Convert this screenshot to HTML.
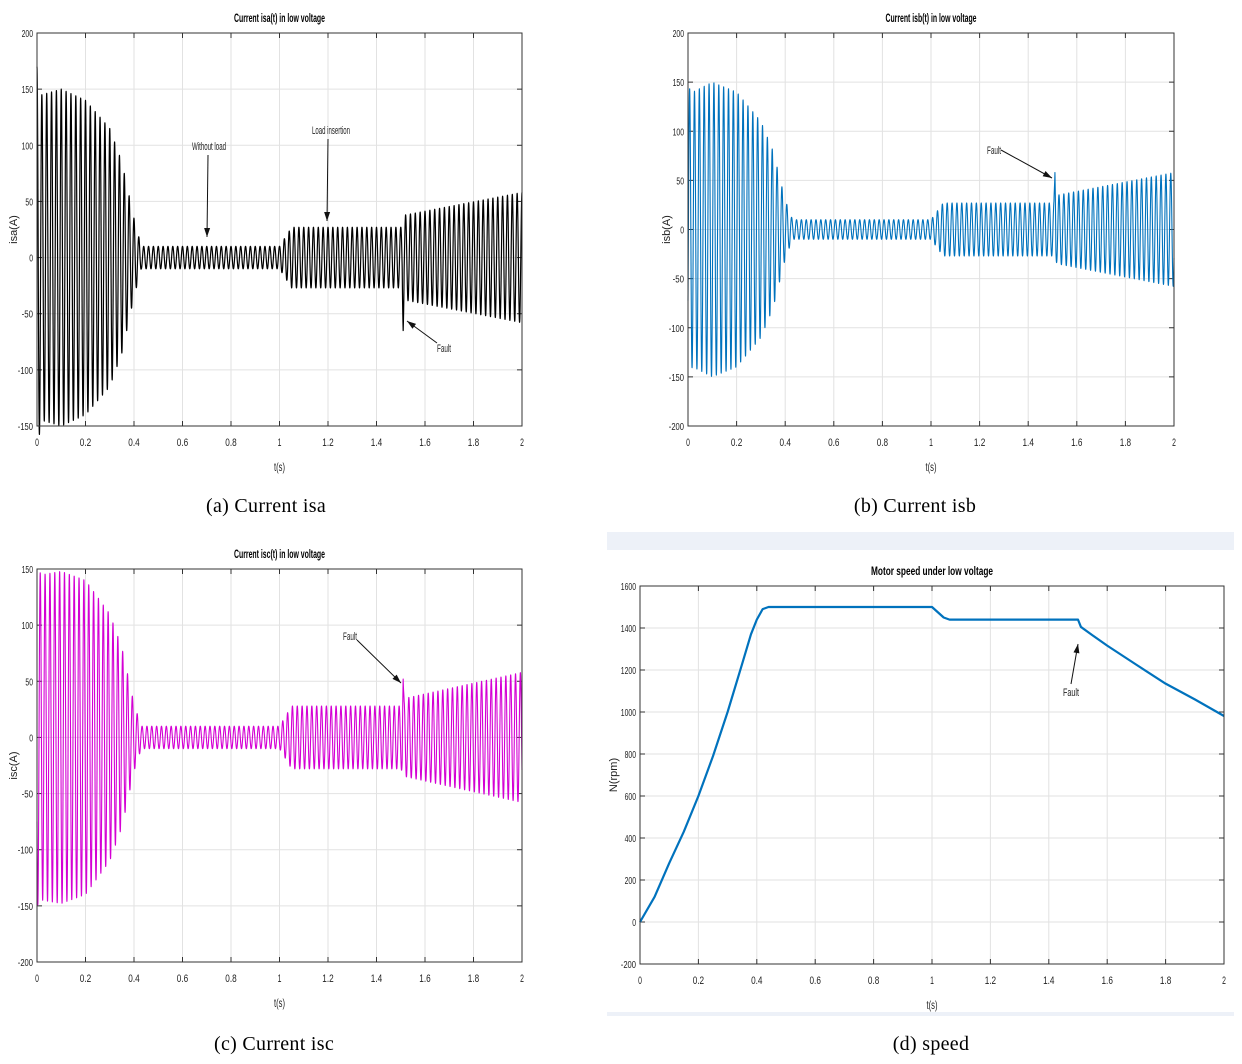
<!DOCTYPE html>
<html><head><meta charset="utf-8">
<style>
body{margin:0;background:#fff;width:1242px;height:1064px;overflow:hidden;position:relative;font-family:"Liberation Serif",serif}
.cap{position:absolute;font-size:20px;letter-spacing:0.3px;color:#000;transform:translateX(-50%);white-space:nowrap}
svg{position:absolute;left:0;top:0}
svg text{font-family:"Liberation Sans",sans-serif}
</style></head>
<body>
<div style="position:absolute;left:607px;top:532px;width:627px;height:18px;background:#edf1f8"></div>
<div style="position:absolute;left:607px;top:1012px;width:627px;height:4px;background:#edf1f8"></div>
<svg id="s" width="1242" height="1064" xmlns="http://www.w3.org/2000/svg"></svg>
<div class="cap" style="left:266px;top:495px">(a) Current isa</div>
<div class="cap" style="left:915px;top:495px">(b) Current isb</div>
<div class="cap" style="left:274px;top:1033px">(c) Current isc</div>
<div class="cap" style="left:931px;top:1033px">(d) speed</div>
<script>
const xTicks=[0,0.2,0.4,0.6,0.8,1,1.2,1.4,1.6,1.8,2];
const freqHz=50;
const envT=[0,0.02,0.1,0.2,0.3,0.35,0.4,0.43,1.0,1.05,1.5,1.52,2.0];
const envA=[170,145,150,140,115,85,35,10,10,27,27,38,58];
const envB=[145,140,150,140,110,80,30,10,10,27,27,35,58];
const envC=[150,145,148,140,110,80,30,10,10,28,28,35,58];
const faultT=1.51;
const faultA=-65, faultB=58, faultC=52;
const speedT=[0,0.05,0.1,0.15,0.2,0.25,0.3,0.35,0.38,0.4,0.42,0.44,1.0,1.02,1.04,1.06,1.5,1.51,1.55,1.6,1.7,1.8,1.9,2.0];
const speedV=[0,120,280,430,600,790,1000,1230,1370,1440,1490,1500,1500,1475,1450,1440,1440,1405,1365,1316,1225,1135,1060,981];
const yTicksA=[-150,-100,-50,0,50,100,150,200];
const yTicksB=[-200,-150,-100,-50,0,50,100,150,200];
const yTicksC=[-200,-150,-100,-50,0,50,100,150];
const yTicksD=[-200,0,200,400,600,800,1000,1200,1400,1600];
const NS='http://www.w3.org/2000/svg';
const svg=document.getElementById('s');
function el(tag,attrs,parent){const e=document.createElementNS(NS,tag);for(const k in attrs)e.setAttribute(k,attrs[k]);(parent||svg).appendChild(e);return e;}
function interp(T,V,t){if(t<=T[0])return V[0];for(let i=1;i<T.length;i++){if(t<=T[i]){const f=(t-T[i-1])/(T[i]-T[i-1]);return V[i-1]+f*(V[i]-V[i-1]);}}return V[V.length-1];}
function narrow(t,len){t.setAttribute('textLength',len);t.setAttribute('lengthAdjust','spacingAndGlyphs');}
function panel(c){
  const g=el('g',{});
  
  
  const sx=t=>c.x0+(t-0)/(2)*(c.x1-c.x0);
  const sy=v=>c.y1-(v-c.ymin)/(c.ymax-c.ymin)*(c.y1-c.y0);
  el('rect',{x:c.x0,y:c.y0,width:c.x1-c.x0,height:c.y1-c.y0,fill:'#fff'},g);
  xTicks.forEach(t=>{const x=sx(t);
    const l=el('line',{x1:x,x2:x,y1:c.y0,y2:c.y1,stroke:'#e2e2e2','stroke-width':1},g);
    
    el('line',{x1:x,x2:x,y1:c.y1,y2:c.y1-5,stroke:'#333'},g);el('line',{x1:x,x2:x,y1:c.y0,y2:c.y0+5,stroke:'#333'},g);
    const s=String(t);
    const tx=el('text',{x:x,y:c.y1+20,'font-size':11,'text-anchor':'middle',fill:'#222'},g);tx.textContent=s;narrow(tx,s.length*3.8);
    });
  c.yTicks.forEach(v=>{const y=sy(v);
    const l=el('line',{x1:c.x0,x2:c.x1,y1:y,y2:y,stroke:'#e2e2e2','stroke-width':1},g);
    
    el('line',{x1:c.x0,x2:c.x0+5,y1:y,y2:y,stroke:'#333'},g);el('line',{x1:c.x1,x2:c.x1-5,y1:y,y2:y,stroke:'#333'},g);
    const s=String(v);
    const tx=el('text',{x:c.x0-4,y:y+4,'font-size':10,'text-anchor':'end',fill:'#222'},g);tx.textContent=s;narrow(tx,s.length*3.8);
    });
  let d='';
  if(c.env){
    const dt=0.0004;
    for(let t=0;t<=2.00001;t+=dt){let v=interp(envT,c.env,t)*Math.cos(2*Math.PI*freqHz*t+c.phase);
      if(Math.abs(t-faultT)<0.004)v=c.fault*(1-Math.abs(t-faultT)/0.004)+v*Math.abs(t-faultT)/0.004;
      d+=(d?'L':'M')+sx(t).toFixed(2)+','+sy(v).toFixed(2);}
  }else{
    speedT.forEach((t,i)=>{d+=(i?'L':'M')+sx(t).toFixed(2)+','+sy(speedV[i]).toFixed(2);});
  }
  const p=el('path',{d:d,fill:'none',stroke:c.color,'stroke-width':c.sw,'stroke-linejoin':'round'},g);
  
  el('rect',{x:c.x0,y:c.y0,width:c.x1-c.x0,height:c.y1-c.y0,fill:'none',stroke:'#333','stroke-width':1},g);
  const ti=el('text',{x:(c.x0+c.x1)/2,y:c.y0-11,'font-size':12,'text-anchor':'middle','font-weight':'bold',fill:'#000'},g);ti.textContent=c.title;narrow(ti,c.titleLen);
  
  const xl=el('text',{x:(c.x0+c.x1)/2,y:c.y1+45,'font-size':12,'text-anchor':'middle',fill:'#222'},g);xl.textContent='t(s)';narrow(xl,11);
  
  const yy=(c.y0+c.y1)/2, yx=c.ylx;
  const yl=el('text',{x:yx,y:yy,'font-size':11,'text-anchor':'middle',fill:'#222',transform:`rotate(-90 ${yx} ${yy})`},g);yl.textContent=c.ylabel;
  
  (c.ann||[]).forEach(a=>{
    const t=el('text',{x:a.tx,y:a.ty,'font-size':11,'text-anchor':'middle',fill:'#222'},g);t.textContent=a.text;narrow(t,a.len);
    
    el('line',{x1:a.x1,y1:a.y1,x2:a.x2,y2:a.y2,stroke:'#111','stroke-width':1},g);
    const ang=Math.atan2(a.y2-a.y1,a.x2-a.x1),L=9,W=3;
    const bx=a.x2-L*Math.cos(ang),by=a.y2-L*Math.sin(ang);
    el('polygon',{points:`${a.x2},${a.y2} ${bx-W*Math.sin(ang)},${by+W*Math.cos(ang)} ${bx+W*Math.sin(ang)},${by-W*Math.cos(ang)}`,fill:'#111'},g);
  });
}
panel({name:'chart-isa',seriesName:'series-isa',x0:37,x1:522,y0:33,y1:426,ymin:-150,ymax:200,yTicks:yTicksA,env:envA,phase:0,fault:faultA,color:'#000',sw:1.2,title:'Current isa(t) in low voltage',titleLen:91,ylabel:'isa(A)',ylx:17,
  ann:[{text:'Without load',len:34,tx:209,ty:150,x1:208,y1:155,x2:207,y2:237},{text:'Load insertion',len:38,tx:331,ty:134,x1:328,y1:139,x2:327,y2:221},{text:'Fault',len:14,tx:444,ty:352,x1:437,y1:343,x2:407,y2:321}]});
panel({name:'chart-isb',seriesName:'series-isb',x0:688,x1:1174,y0:33,y1:426,ymin:-200,ymax:200,yTicks:yTicksB,env:envB,phase:-2*Math.PI/3,fault:faultB,color:'#0072bd',sw:1.1,title:'Current isb(t) in low voltage',titleLen:91,ylabel:'isb(A)',ylx:670,
  ann:[{text:'Fault',len:14,tx:994,ty:154,x1:1001,y1:150,x2:1052,y2:178}]});
panel({name:'chart-isc',seriesName:'series-isc',x0:37,x1:522,y0:569,y1:962,ymin:-200,ymax:150,yTicks:yTicksC,env:envC,phase:2*Math.PI/3,fault:faultC,color:'#d400d4',sw:1.1,title:'Current isc(t) in low voltage',titleLen:91,ylabel:'isc(A)',ylx:17,
  ann:[{text:'Fault',len:14,tx:350,ty:640,x1:357,y1:640,x2:401,y2:683}]});
panel({name:'chart-speed',seriesName:'series-speed',x0:640,x1:1224,y0:586,y1:964,ymin:-200,ymax:1600,yTicks:yTicksD,color:'#0072bd',sw:2.2,title:'Motor speed under low voltage',titleLen:122,ylabel:'N(rpm)',ylx:617,
  ann:[{text:'Fault',len:16,tx:1071,ty:696,x1:1071,y1:684,x2:1078,y2:644}]});
</script>
</body></html>
